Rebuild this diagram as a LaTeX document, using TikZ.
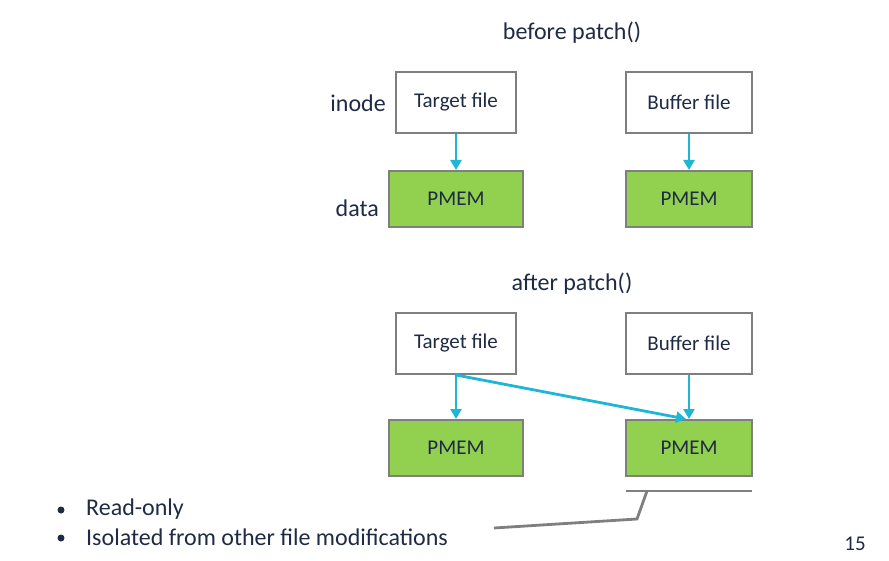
\documentclass[tikz,border=0pt]{standalone}
\usepackage{fontspec}
\setmainfont{Carlito}
\usetikzlibrary{arrows.meta}
\definecolor{txt}{HTML}{1F2A44}
\definecolor{bord}{HTML}{7F7F7F}
\definecolor{pm}{HTML}{92D050}
\definecolor{cy}{HTML}{1FB5D5}
\tikzset{
  filebox/.style={draw=bord, line width=2pt, fill=white, minimum width=120pt, minimum height=61pt, inner sep=0pt, text=txt, font=\fontsize{21}{24}\selectfont},
  pmbox/.style={draw=bord, line width=2pt, fill=pm, minimum height=56pt, inner sep=0pt, text=txt, font=\fontsize{21}{24}\selectfont},
  link/.style={draw=cy, line width=2.8pt, -{Triangle[length=10pt,width=11pt]}},
  lbl/.style={text=txt, font=\fontsize{24}{28}\selectfont, inner sep=0pt},
  bul/.style={text=txt, font=\fontsize{24}{28}\selectfont, inner sep=0pt, anchor=west},
  dot/.style={fill=txt, circle, inner sep=0pt, minimum size=7pt},
  brk/.style={draw=bord, line width=2.8pt}
}
\begin{document}
\begin{tikzpicture}[x=1pt,y=-1pt]
\useasboundingbox (0,0) rectangle (889,561);
\node[lbl] (t1) at (572,33) {before patch()};
\node[lbl] (t2) at (572,284) {after patch()};
\node[lbl, anchor=east] (inode) at (386,103) {inode};
\node[lbl, anchor=east] (data) at (379,208) {data};
% before
\node[filebox] (ta) at (456,102.5) {Target file};
\node[filebox, minimum width=126pt] (ba) at (689,102.5) {Buffer file};
\node[pmbox, minimum width=134pt] (pa) at (456,199) {PMEM};
\node[pmbox, minimum width=126pt] (pb) at (689,199) {PMEM};
\draw[link] (ta.south) -- (pa.north);
\draw[link] (ba.south) -- (pb.north);
% after
\node[filebox] (tb) at (456,343.5) {Target file};
\node[filebox, minimum width=126pt] (bb) at (689,343.5) {Buffer file};
\node[pmbox, minimum width=134pt] (pc) at (456,448) {PMEM};
\node[pmbox, minimum width=126pt] (pd) at (689,448) {PMEM};
\draw[link] (tb.south) -- (pc.north);
\draw[link] (bb.south) -- (pd.north);
\draw[link] (tb.south) -- ([xshift=-3pt]pd.north);
% bracket
\coordinate (b1) at (626,491);
\coordinate (b2) at (752,491);
\coordinate (b3) at (647,491);
\coordinate (b4) at (637,519);
\coordinate (b5) at (494,528);
\draw[brk] (b1) -- (b2);
\draw[brk] (b3) -- (b4) -- (b5);
% bullets
\node[dot] (d1) at (61,510) {};
\node[bul] (l1) at (86,509) {Read-only};
\node[dot] (d2) at (61,538) {};
\node[bul] (l2) at (86,537) {Isolated from other file modifications};
\node[text=txt, font=\fontsize{21}{24}\selectfont, inner sep=0pt] (pg) at (855,544) {15};
\end{tikzpicture}
\end{document}
